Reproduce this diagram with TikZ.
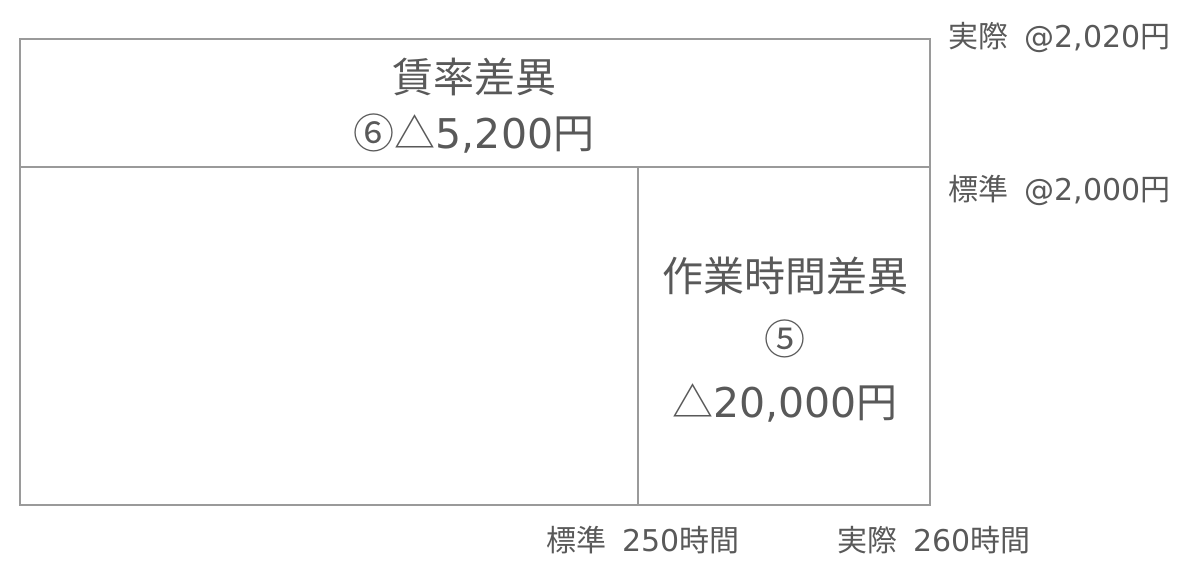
\documentclass[tikz,border=0pt]{standalone}
\usepackage{fontspec}
\setmainfont{DejaVu Sans}
\newfontfamily\cjk{Noto Sans CJK JP}
\usepackage{tikz}
\definecolor{txtgray}{HTML}{595959}
\definecolor{linegray}{HTML}{9A9A9A}
\tikzset{
  bigtext/.style={text=txtgray,inner sep=0pt,font=\fontsize{41}{48}\selectfont},
  smalltext/.style={text=txtgray,inner sep=0pt,anchor=west,font=\fontsize{30}{36}\selectfont},
  boxline/.style={draw=linegray,line width=1.5pt}
}
\begin{document}
\begin{tikzpicture}[x=1pt,y=-1pt]
      \useasboundingbox (0,0) rectangle (1194,577);
      \coordinate (tl) at (20,39);
      \coordinate (br) at (930,505);
      \coordinate (ml) at (20,167);
      \coordinate (mr) at (930,167);
      \coordinate (vt) at (638,167);
      \coordinate (vb) at (638,505);
      \draw[boxline] (tl) rectangle (br);
      \draw[boxline] (ml) -- (mr);
      \draw[boxline] (vt) -- (vb);
      % labels in the boxes
      \node[bigtext] (rate) at (474,77) {\cjk 賃率差異};
      \node[bigtext] (ratev) at (474,134) {{\cjk ⑥△}5,200{\cjk 円}};
      \node[bigtext] (time) at (785,276) {\cjk 作業時間差異};
      \node[bigtext] (timen) at (785,339) {\cjk ⑤};
      \node[bigtext] (timev) at (785,403) {{\cjk △}20,000{\cjk 円}};
      % prices and hours
      \node[smalltext] (actp) at (948,38) {{\cjk 実際}\hspace{0.55em}@2,020{\cjk 円}};
      \node[smalltext] (stdp) at (948,190) {{\cjk 標準}\hspace{0.55em}@2,000{\cjk 円}};
      \node[smalltext] (stdh) at (546,540) {{\cjk 標準}\hspace{0.55em}250{\cjk 時間}};
      \node[smalltext] (acth) at (837,540) {{\cjk 実際}\hspace{0.55em}260{\cjk 時間}};
    \end{tikzpicture}
\end{document}
